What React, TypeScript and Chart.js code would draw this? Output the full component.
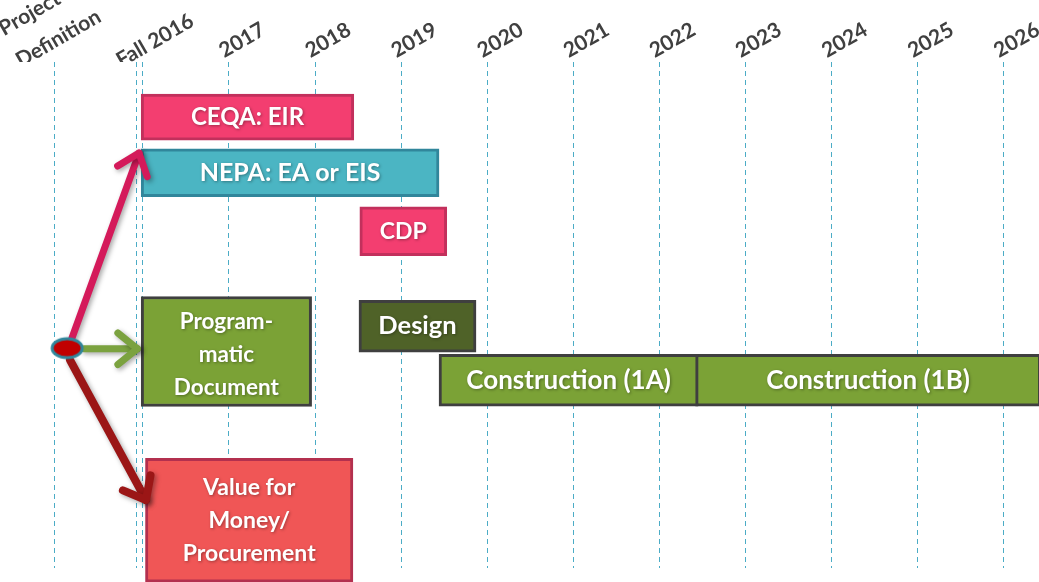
import React, { useEffect, useRef } from 'react';
import { Chart, registerables } from 'chart.js';

Chart.register(...registerables);

// ---------- DATA ----------
// Timeline axis (years as decimal values)
const yearTicks = [2017, 2018, 2019, 2020, 2021, 2022, 2023, 2024, 2025, 2026];
const yearLabels = ['2017', '2018', '2019', '2020', '2021', '2022', '2023', '2024', '2025', '2026'];
// Milestone gridlines: Project Definition, Fall 2016 (double line)
const milestoneTicks = [2014.97, 2015.92, 2015.99];
// Header labels for the milestones
const headerTicks = [2014.51, 2014.737, 2015.676];
const headerLabels = ['Definition', 'Project', 'Fall 2016'];

// Tasks
const taskNames = [
  'CEQA: EIR',
  'NEPA: EA or EIS',
  'CDP',
  'Program-\nmatic\nDocument',
  'Design',
  'Construction (1A)',
  'Construction (1B)',
  'Value for\nMoney/\nProcurement',
];
const taskStart = [2015.98, 2015.98, 2018.52, 2015.98, 2018.51, 2019.44, 2022.42, 2016.03];
const taskEnd = [2018.45, 2019.44, 2019.53, 2017.96, 2019.87, 2022.45, 2026.43, 2018.44];
const taskRow = [0.98, 1.97, 3.01, 5.15, 4.7, 5.66, 5.66, 8.15];

// Decision node and arrows (from node to the three work streams)
const nodePoint = { x: 2015.12, y: 5.09 };
const arrowEnvironmental = [{ x: 2015.176, y: 4.91 }, { x: 2015.955, y: 1.62 }];
const arrowProgrammatic = [{ x: 2015.316, y: 5.1 }, { x: 2015.935, y: 5.1 }];
const arrowProcurement = [{ x: 2015.153, y: 5.3 }, { x: 2016.036, y: 7.79 }];

// ---------- STYLES ----------
const taskFill = ['#F33E70', '#4BB5C3', '#F33E70', '#7BA236', '#4F6228', '#7BA236', '#7BA236', '#F05656'];
const taskBorder = ['#C2305C', '#31869B', '#C2305C', '#3F3F3F', '#3F3F3F', '#3F3F3F', '#3F3F3F', '#B3304F'];
const taskThickness = [46, 48, 49, 110, 52, 52, 52, 124];
const taskFontSize = [24, 25, 23, 22.5, 25.5, 26, 26, 23];
const taskTextShift = [0, 0, 0, 3, 0, 0, 0, 0];
const multiLineGap = 33;
const FONT = 'Lato, "Open Sans", sans-serif';
const GRID_COLOR = '#4BACC6';

type TickDef = { value: number; label: string; grid: boolean };
const allTicks: TickDef[] = [
  ...yearTicks.map((v, i) => ({ value: v, label: yearLabels[i], grid: true })),
  ...milestoneTicks.map((v) => ({ value: v, label: '', grid: true })),
  ...headerTicks.map((v, i) => ({ value: v, label: headerLabels[i], grid: false })),
].sort((a, b) => a.value - b.value);

const tickLineHeight: Record<string, string> = {
  Project: '73px',
  Definition: '0px',
  'Fall 2016': '0px',
};

function makeNodeImage(): HTMLCanvasElement {
  const c = document.createElement('canvas');
  c.width = 36;
  c.height = 25;
  const g = c.getContext('2d')!;
  g.beginPath();
  g.ellipse(18, 12.5, 15, 9.5, 0, 0, Math.PI * 2);
  g.fillStyle = '#C00000';
  g.fill();
  g.lineWidth = 3;
  g.strokeStyle = '#31869B';
  g.stroke();
  return c;
}

const barTextPlugin = {
  id: 'barText',
  afterDatasetsDraw(chart: any) {
    const ctx = chart.ctx;
    chart.data.datasets.forEach((ds: any, i: number) => {
      if (!ds.taskLabel) return;
      const meta = chart.getDatasetMeta(i);
      const el = meta.data[0];
      if (!el) return;
      const { x, y, base } = el.getProps(['x', 'y', 'base'], true);
      const cx = (x + base) / 2;
      const cy = y + (ds.labelShift || 0);
      const lines: string[] = ds.taskLabel.split('\n');
      ctx.save();
      ctx.font = `bold ${ds.labelFontSize}px ${FONT}`;
      ctx.fillStyle = '#FFFFFF';
      ctx.textAlign = 'center';
      ctx.textBaseline = 'middle';
      ctx.shadowColor = 'rgba(0,0,0,0.35)';
      ctx.shadowBlur = 3;
      ctx.shadowOffsetX = 1;
      ctx.shadowOffsetY = 1;
      lines.forEach((l, k) => {
        ctx.fillText(l, cx, cy + (k - (lines.length - 1) / 2) * multiLineGap);
      });
      ctx.restore();
    });
  },
};

const arrowPlugin = {
  id: 'arrowHeads',
  beforeDatasetDraw(chart: any, args: any) {
    const ds = chart.data.datasets[args.index];
    if (!ds.arrowHead) return;
    const ctx = chart.ctx;
    ctx.save();
    ctx.shadowColor = 'rgba(0,0,0,0.35)';
    ctx.shadowBlur = 5;
    ctx.shadowOffsetX = 2;
    ctx.shadowOffsetY = 2;
  },
  afterDatasetDraw(chart: any, args: any) {
    const ds = chart.data.datasets[args.index];
    if (!ds.arrowHead) return;
    const ctx = chart.ctx;
    const pts = args.meta.data;
    const tip = pts[pts.length - 1];
    const prev = pts[pts.length - 2];
    const ang = Math.atan2(tip.y - prev.y, tip.x - prev.x);
    const len = 25;
    const a = 0.68;
    ctx.strokeStyle = ds.borderColor;
    ctx.lineWidth = ds.borderWidth;
    ctx.lineCap = 'round';
    ctx.lineJoin = 'round';
    ctx.beginPath();
    ctx.moveTo(tip.x - len * Math.cos(ang - a), tip.y - len * Math.sin(ang - a));
    ctx.lineTo(tip.x, tip.y);
    ctx.lineTo(tip.x - len * Math.cos(ang + a), tip.y - len * Math.sin(ang + a));
    ctx.stroke();
    ctx.restore();
  },
};

export default function App() {
  const ref = useRef<HTMLCanvasElement>(null);

  useEffect(() => {
    if (!ref.current) return;
    const barSets: any[] = taskNames.map((name, i) => ({
      type: 'bar',
      label: name,
      taskLabel: name,
      labelFontSize: taskFontSize[i],
      labelShift: taskTextShift[i],
      data: [{ x: [taskStart[i], taskEnd[i]], y: taskRow[i] }],
      backgroundColor: taskFill[i],
      borderColor: taskBorder[i],
      borderWidth: 3,
      borderSkipped: false,
      barThickness: taskThickness[i],
      grouped: false,
      clip: false,
      order: 3,
    }));
    const arrowSet = (pts: any[], color: string, width: number) => ({
      type: 'line',
      data: pts,
      borderColor: color,
      borderWidth: width,
      borderCapStyle: 'round',
      pointRadius: 0,
      fill: false,
      arrowHead: true,
      clip: false,
      order: 2,
    });
    const lineSets: any[] = [
      arrowSet(arrowEnvironmental, '#D41A5A', 7),
      arrowSet(arrowProgrammatic, '#7BA23F', 7),
      arrowSet(arrowProcurement, '#9B1616', 8),
      {
        type: 'line',
        data: [nodePoint],
        pointStyle: makeNodeImage(),
        pointRadius: 10,
        showLine: false,
        clip: false,
        order: 1,
      },
    ];

    const chart = new Chart(ref.current, {
      type: 'bar',
      data: { datasets: [...barSets, ...lineSets] },
      options: {
        indexAxis: 'y',
        animation: false,
        responsive: false,
        devicePixelRatio: 1,
        layout: { autoPadding: false, padding: { top: 0, left: 0, right: 0, bottom: 14 } },
        plugins: {
          legend: { display: false },
          tooltip: { enabled: false },
        },
        scales: {
          x: {
            type: 'linear',
            position: 'top',
            min: 2014.34,
            max: 2026.41,
            afterBuildTicks: (scale: any) => {
              scale.ticks = allTicks.map((t) => ({ value: t.value }));
            },
            afterFit: (scale: any) => {
              scale.height = 62;
              scale.paddingLeft = 0;
              scale.paddingRight = 0;
            },
            grid: {
              drawTicks: false,
              lineWidth: 1,
              color: (ctx: any) => {
                const t = allTicks[ctx.index];
                return t && t.grid ? GRID_COLOR : 'rgba(0,0,0,0)';
              },
            },
            border: { display: false, dash: [5, 4] },
            ticks: {
              autoSkip: false,
              minRotation: 30,
              maxRotation: 30,
              padding: 0,
              labelOffset: 3,
              color: '#404040',
              callback: (_v: any, index: number) => allTicks[index]?.label ?? '',
              font: (ctx: any) => {
                const t = allTicks[ctx.index];
                const lh = t && tickLineHeight[t.label] !== undefined ? tickLineHeight[t.label] : '22px';
                return { family: FONT, size: 21, weight: 'bold', lineHeight: lh } as any;
              },
            },
          },
          y: {
            type: 'linear',
            display: false,
            reverse: true,
            offset: false,
            min: 0,
            max: 9,
          },
        },
      } as any,
      plugins: [barTextPlugin, arrowPlugin],
    });
    return () => chart.destroy();
  }, []);

  return (
    <div style={{ position: 'absolute', left: 0, top: 0, width: 1039, height: 582, background: '#fff' }}>
      <canvas ref={ref} width={1039} height={582} style={{ display: 'block' }} />
    </div>
  );
}
